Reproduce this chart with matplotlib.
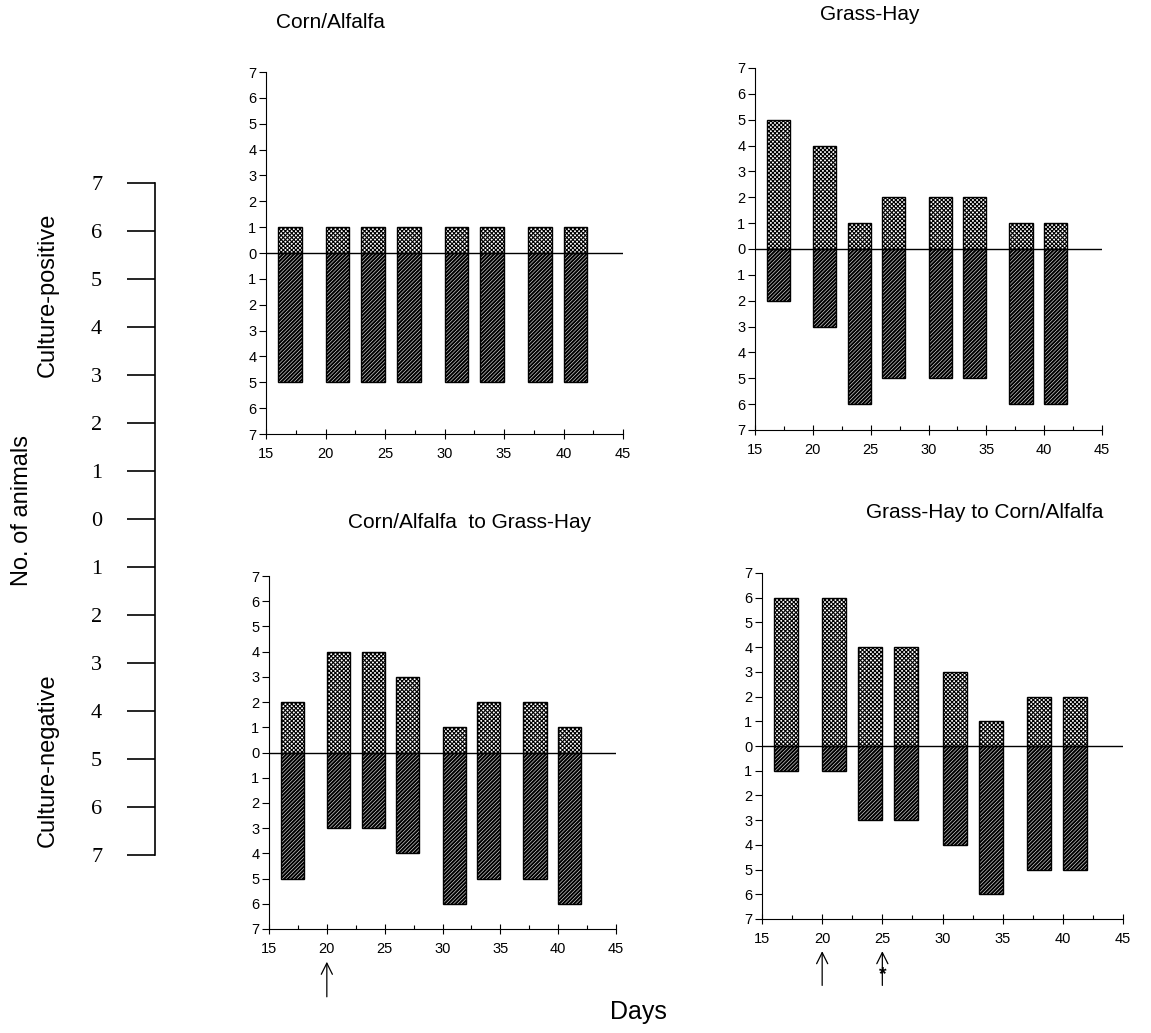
import numpy as np
import matplotlib.pyplot as plt
from matplotlib.ticker import MultipleLocator, FuncFormatter

plt.rcParams['font.family'] = ['Liberation Sans', 'DejaVu Sans']

days = [17, 21, 24, 27, 31, 34, 38, 41]
titles = ['Corn/Alfalfa', 'Grass-Hay', 'Corn/Alfalfa  to Grass-Hay', 'Grass-Hay to Corn/Alfalfa']
positive = [
    [1, 1, 1, 1, 1, 1, 1, 1],
    [5, 4, 1, 2, 2, 2, 1, 1],
    [2, 4, 4, 3, 1, 2, 2, 1],
    [6, 6, 4, 4, 3, 1, 2, 2],
]
negative = [
    [5, 5, 5, 5, 5, 5, 5, 5],
    [2, 3, 6, 5, 5, 5, 6, 6],
    [5, 3, 3, 4, 6, 5, 5, 6],
    [1, 1, 3, 3, 4, 6, 5, 5],
]
arrow_days = [[], [], [20], [20, 25]]
star_days = [[], [], [], [25]]
scale_labels = [7, 6, 5, 4, 3, 2, 1, 0, 1, 2, 3, 4, 5, 6, 7]

W, H = 1151, 1033
fig = plt.figure(figsize=(W / 100, H / 100), dpi=100)

# axes boxes in pixels: left, top, right, bottom
boxes = [(266, 72, 623, 434), (755, 68, 1102, 430), (269, 576, 616, 929), (762, 573, 1123, 919)]
title_pos = [(330, 22), (870, 15), (470, 522), (985, 512)]

absfmt = FuncFormatter(lambda v, p: '%d' % abs(v))

for i in range(4):
    l, t, r, b = boxes[i]
    ax = fig.add_axes([l / W, 1 - b / H, (r - l) / W, (b - t) / H])
    with plt.rc_context({'hatch.linewidth': 0.8}):
        ax.bar(days, positive[i], width=2, bottom=0, facecolor='white', edgecolor='black',
               hatch='xxxxxxxx', linewidth=1.0, zorder=2)
    with plt.rc_context({'hatch.linewidth': 1.5}):
        ax.bar(days, [-n for n in negative[i]], width=2, bottom=0, facecolor='white',
               edgecolor='black', hatch='/' * 9, linewidth=1.0, zorder=2)
    ax.axhline(0, color='black', lw=1.0, zorder=3)
    ax.set_xlim(15, 45)
    ax.set_ylim(-7, 7)
    ax.xaxis.set_major_locator(MultipleLocator(5))
    ax.xaxis.set_minor_locator(MultipleLocator(2.5))
    ax.yaxis.set_major_locator(MultipleLocator(1))
    ax.yaxis.set_major_formatter(absfmt)
    ax.spines['top'].set_visible(False)
    ax.spines['right'].set_visible(False)
    ax.tick_params(axis='both', which='major', labelsize=10.5, length=5, width=0.8)
    ax.tick_params(axis='x', which='major', direction='inout', length=7, pad=6)
    ax.tick_params(axis='x', which='minor', direction='in', length=3, width=0.8)
    ax.tick_params(axis='y', pad=2)
    for d in arrow_days[i]:
        ax.annotate('', xy=(d, -0.085), xycoords=('data', 'axes fraction'),
                    xytext=(d, -0.2), textcoords=('data', 'axes fraction'),
                    arrowprops=dict(arrowstyle='->', lw=0.9, color='black',
                                    mutation_scale=20))
    for d in star_days[i]:
        ax.text(d, -0.16, '*', transform=ax.get_xaxis_transform(), ha='center',
                va='center', fontsize=14, fontweight='bold')
    tx, ty = title_pos[i]
    fig.text(tx / W, 1 - ty / H, titles[i], ha='center', va='center', fontsize=15)

# left-hand scale
sax = fig.add_axes([155 / W, 1 - 855 / H, 0.001, 672 / H])
sax.set_ylim(0, 14)
sax.set_xlim(0, 1)
sax.set_xticks([])
sax.set_yticks(range(15))
sax.set_yticklabels(scale_labels[::-1], family='Liberation Serif', fontsize=16)
sax.tick_params(axis='y', length=20, width=1.2, pad=18)
for s in ['top', 'right', 'bottom']:
    sax.spines[s].set_visible(False)
sax.spines['left'].set_linewidth(1.2)
sax.patch.set_visible(False)

fig.text(48 / W, 1 - 295 / H, 'Culture-positive', rotation=90, ha='center', va='center', fontsize=17)
fig.text(22 / W, 1 - 510 / H, 'No. of animals', rotation=90, ha='center', va='center', fontsize=17)
fig.text(48 / W, 1 - 760 / H, 'Culture-negative', rotation=90, ha='center', va='center', fontsize=17)
fig.text(638 / W, 1 - 1012 / H, 'Days', ha='center', va='center', fontsize=18)

fig.savefig('out.png', dpi=100)
